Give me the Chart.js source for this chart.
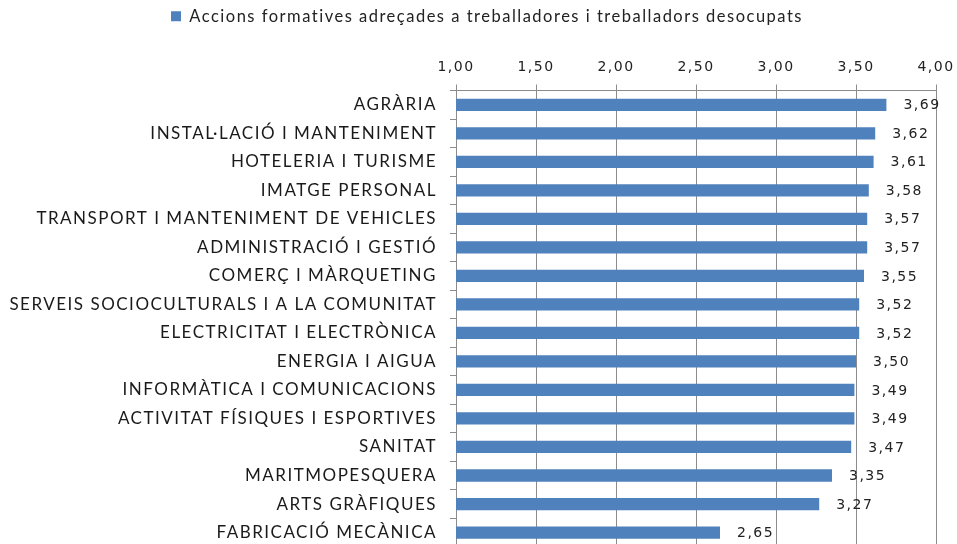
<html lang="ca">
<head>
    <meta charset="UTF-8">
    <title>Accions formatives</title>
    <style>
        body { margin: 0; overflow: hidden; background: white; }
        #chart { display: block; }
    </style>
</head>
<body>
    <canvas id="chart" width="957" height="570"></canvas>

    <script src="https://cdn.jsdelivr.net/npm/chart.js"></script>
    <script>
        const categories = [
            'AGRÀRIA',
            'INSTAL·LACIÓ I MANTENIMENT',
            'HOTELERIA I TURISME',
            'IMATGE PERSONAL',
            'TRANSPORT I MANTENIMENT DE VEHICLES',
            'ADMINISTRACIÓ I GESTIÓ',
            'COMERÇ I MÀRQUETING',
            'SERVEIS SOCIOCULTURALS I A LA COMUNITAT',
            'ELECTRICITAT I ELECTRÒNICA',
            'ENERGIA I AIGUA',
            'INFORMÀTICA I COMUNICACIONS',
            'ACTIVITAT FÍSIQUES I ESPORTIVES',
            'SANITAT',
            'MARITMOPESQUERA',
            'ARTS GRÀFIQUES',
            'FABRICACIÓ MECÀNICA'
        ];
        const valors = [3.69, 3.62, 3.61, 3.58, 3.57, 3.57, 3.55, 3.52, 3.52, 3.50, 3.49, 3.49, 3.47, 3.35, 3.27, 2.65];
        const serieNom = 'Accions formatives adreçades a treballadores i treballadors desocupats';
        const eixMin = 1, eixMax = 4, eixPas = 0.5;

        const coma = v => v.toFixed(2).replace('.', ',');

        // el text de l'original és molt ample: una mica d'espai entre lletres
        const espaiat = {
            id: 'espaiat',
            beforeLayout(chart) { chart.ctx.letterSpacing = '1.5px'; },
            beforeDraw(chart) { chart.ctx.letterSpacing = '1.5px'; },
            afterLayout(chart) {
                // la llegenda està una mica desplaçada cap a la dreta
                chart.legend.left += 19;
                chart.legend.right += 19;
            }
        };

        // etiquetes de valor a la dreta de cada barra
        const etiquetes = {
            id: 'etiquetes',
            afterDatasetsDraw(chart) {
                const ctx = chart.ctx;
                ctx.save();
                ctx.font = '14px "DejaVu Sans"';
                ctx.fillStyle = '#222';
                ctx.textAlign = 'left';
                ctx.textBaseline = 'middle';
                chart.getDatasetMeta(0).data.forEach((bar, i) => {
                    ctx.fillText(coma(valors[i]), bar.x + 17, bar.y + 1);
                });
                ctx.restore();
            }
        };

        new Chart(document.getElementById('chart'), {
            type: 'bar',
            data: {
                labels: categories,
                datasets: [{
                    label: serieNom,
                    data: valors,
                    backgroundColor: '#4F81BD',
                    borderWidth: 0,
                    categoryPercentage: 1,
                    barPercentage: 0.43
                }]
            },
            options: {
                indexAxis: 'y',
                responsive: false,
                animation: false,
                layout: { padding: { top: 0, right: 21, bottom: 0, left: 0 } },
                scales: {
                    x: {
                        position: 'top',
                        min: eixMin,
                        max: eixMax,
                        ticks: {
                            stepSize: eixPas,
                            color: '#222',
                            padding: 9,
                            font: { family: 'DejaVu Sans', size: 14 },
                            callback: v => coma(v)
                        },
                        grid: { color: '#8c8c8c', tickLength: 6 },
                        border: { color: '#8c8c8c' },
                        afterFit: s => {
                            s.height = 56;
                            s.paddingLeft = 0;
                            s.paddingRight = 0;
                        }
                    },
                    y: {
                        ticks: {
                            color: '#1a1a1a',
                            padding: 13,
                            font: { family: 'Lato', size: 17 }
                        },
                        grid: { drawOnChartArea: false, color: '#8c8c8c', tickLength: 6 },
                        border: { color: '#8c8c8c' },
                        afterFit: s => { s.width = 456; }
                    }
                },
                plugins: {
                    legend: {
                        position: 'top',
                        labels: {
                            boxWidth: 10,
                            boxHeight: 10,
                            color: '#222',
                            padding: 8,
                            font: { family: 'Lato', size: 16.5 }
                        }
                    },
                    tooltip: { enabled: false }
                }
            },
            plugins: [espaiat, etiquetes]
        });
    </script>
</body>
</html>
